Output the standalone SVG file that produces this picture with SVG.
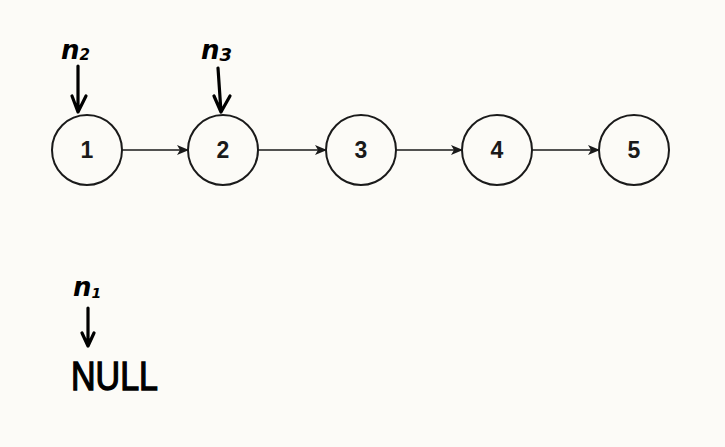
<svg xmlns="http://www.w3.org/2000/svg" width="725" height="447" viewBox="0 0 725 447">
<defs>
<marker id="ah" markerWidth="12" markerHeight="10" refX="11" refY="5" orient="auto" markerUnits="userSpaceOnUse">
<path d="M0,0 L12,5 L0,10 L3,5 Z" fill="#1a1a1a"/>
</marker>
<style>
.node circle{fill:none;stroke:#1a1a1a;stroke-width:2}
.node text{font-family:"Liberation Sans",Arial,sans-serif;font-size:23px;font-weight:bold;fill:#1a1a1a;text-anchor:middle}
.conn line{stroke:#1a1a1a;stroke-width:1.6;marker-end:url(#ah)}
.hand{fill:none;stroke:#000;stroke-width:3.2;stroke-linecap:round;stroke-linejoin:round}
.hw{font-family:"DejaVu Sans",sans-serif;font-style:italic;font-weight:bold;fill:#000}
</style>
</defs>
<rect width="725" height="447" fill="#fcfbf7"/>
<g id="node1" class="node"><circle cx="87" cy="150" r="35"/><text x="87" y="158">1</text></g>
<g id="node2" class="node"><circle cx="223" cy="150" r="35"/><text x="223" y="158">2</text></g>
<g id="node3" class="node"><circle cx="361" cy="150" r="35"/><text x="361" y="158">3</text></g>
<g id="node4" class="node"><circle cx="497" cy="150" r="35"/><text x="497" y="158">4</text></g>
<g id="node5" class="node"><circle cx="634" cy="150" r="35"/><text x="634" y="158">5</text></g>
<g id="connectors" class="conn">
<line x1="122" y1="150" x2="188" y2="150"/>
<line x1="258" y1="150" x2="326" y2="150"/>
<line x1="396" y1="150" x2="462" y2="150"/>
<line x1="532" y1="150" x2="599" y2="150"/>
</g>
<g id="label-n2">
<text class="hw" x="61" y="59" font-size="26">n<tspan font-size="15" dy="1">2</tspan></text>
<path class="hand" d="M78,66 L78,112 M72,96 L78,112 L86,96"/>
</g>
<g id="label-n3">
<text class="hw" x="201" y="59" font-size="26">n<tspan font-size="18" dy="2">3</tspan></text>
<path class="hand" d="M218,68 L221,112 M214,96 L221,112 L230,96"/>
</g>
<g id="label-n1">
<text class="hw" x="73" y="296" font-size="26">n<tspan font-size="14" dy="2">1</tspan></text>
<path class="hand" d="M88,308 L88,346 M82,333 L88,346 L94,333"/>
</g>
<g id="null">
<text x="71" y="390" font-family="'Liberation Sans',Arial,sans-serif" font-size="41" fill="#000" stroke="#000" stroke-width="1.4" textLength="87" lengthAdjust="spacingAndGlyphs">NULL</text>
</g>
</svg>
